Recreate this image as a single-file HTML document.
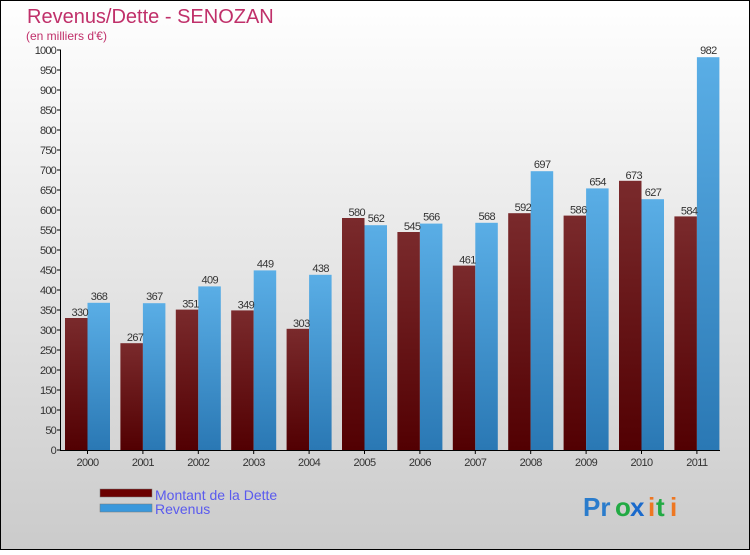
<!DOCTYPE html>
<html><head><meta charset="utf-8"><style>
html,body{margin:0;padding:0;}
body{width:750px;height:550px;overflow:hidden;}
text{font-family:"Liberation Sans",sans-serif;}
</style></head><body>
<svg id="s" width="750" height="550" xmlns="http://www.w3.org/2000/svg">
<defs>
<linearGradient id="bg" x1="0" y1="0" x2="0" y2="1"><stop offset="0" stop-color="#ffffff"/><stop offset="1" stop-color="#cbcbcb"/></linearGradient>
<linearGradient id="gd" x1="0" y1="0" x2="0" y2="1"><stop offset="0" stop-color="#7a2a2c"/><stop offset="1" stop-color="#520002"/></linearGradient>
<linearGradient id="gr" x1="0" y1="0" x2="0" y2="1"><stop offset="0" stop-color="#5aaee6"/><stop offset="1" stop-color="#2a78b4"/></linearGradient>
</defs>
<rect x="0.5" y="0.5" width="749" height="549" fill="url(#bg)" stroke="#000"/>
<text x="27" y="23" font-size="20" fill="#c0306a">Revenus/Dette - SENOZAN</text>
<text x="26" y="40" font-size="12" fill="#c0306a">(en milliers d'€)</text>
<g id="g"></g>
<rect x="100" y="489" width="52" height="8" fill="#6b0000" stroke="#777" stroke-width="0.5"/>
<rect x="100" y="504" width="52" height="8" fill="#3a98dc" stroke="#777" stroke-width="0.5"/>
<text x="155" y="500" font-size="14" fill="#5a5aee">Montant de la Dette</text>
<text x="155" y="514" font-size="14" fill="#5a5aee">Revenus</text>
<g font-size="26" font-family="Liberation Sans" font-weight="bold">
<text x="583" y="516" fill="#2a7ccc">Pr</text><text x="615" y="516" fill="#22aa44">o</text><text x="630" y="516" fill="#1a6acc">x</text><text x="648" y="516" fill="#ee7722">i</text><text x="656" y="516" fill="#22aa44">t</text><text x="670" y="516" fill="#ee7722">i</text>
</g>
</svg>
<script>
var D=[330,267,351,349,303,580,545,461,592,586,673,584],R=[368,367,409,449,438,562,566,568,697,654,627,982];
var h='';
for(var v=0;v<=1000;v+=50){var y=450-0.4*v;h+='<line x1="57" x2="61" y1="'+y+'" y2="'+y+'" stroke="#000"/><text x="56" y="'+(y+4)+'" font-size="11" fill="#333" text-anchor="end" letter-spacing="-0.8">'+v+'</text>';}
for(var i=0;i<12;i++){var x=65+55.4*i;var yd=450-0.4*D[i],yr=450-0.4*R[i];
h+='<rect x="'+x+'" y="'+yd+'" width="22.5" height="'+(450-yd)+'" fill="url(#gd)"/>';
h+='<rect x="'+(x+22.5)+'" y="'+yr+'" width="22.5" height="'+(450-yr)+'" fill="url(#gr)"/>';
h+='<text x="'+(x+23)+'" y="'+(yd-2)+'" font-size="11" fill="#333" text-anchor="end" letter-spacing="-0.6">'+D[i]+'</text>';
h+='<text x="'+(x+34)+'" y="'+(yr-3)+'" font-size="11" fill="#333" text-anchor="middle" letter-spacing="-0.6">'+R[i]+'</text>';
h+='<line x1="'+(x+22.5)+'" x2="'+(x+22.5)+'" y1="450" y2="454" stroke="#000"/><text x="'+(x+22.5)+'" y="466" font-size="11" fill="#333" text-anchor="middle" letter-spacing="-0.6">'+(2000+i)+'</text>';}
h+='<line x1="60.5" x2="60.5" y1="50" y2="450" stroke="#000"/><line x1="60" x2="720" y1="450.5" y2="450.5" stroke="#000"/>';
document.getElementById('g').innerHTML=h;
</script>
</body></html>
